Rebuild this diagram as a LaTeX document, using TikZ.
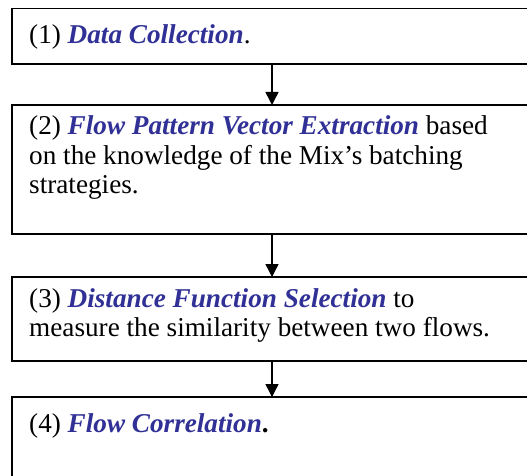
\documentclass[tikz,border=0pt]{standalone}
\usepackage{fontspec}
\setmainfont{Liberation Serif}
\usetikzlibrary{arrows.meta}
\definecolor{stepblue}{RGB}{48,48,150}
\newcommand{\term}[1]{\textcolor{stepblue}{\textbf{\textit{#1}}}}
\tikzset{
  stepbox/.style={draw=black, line width=1.8pt, rectangle, anchor=north west,
    minimum width=520pt, inner sep=0pt, outer sep=0pt},
  steptext/.style={anchor=base west, inner sep=0pt,
    font=\fontsize{27.2}{29}\selectfont},
  flowarrow/.style={line width=1.5pt, -{Triangle[width=13pt,length=13pt]}}
}
\begin{document}
\begin{tikzpicture}[x=1pt,y=1pt]
  \useasboundingbox (0,0) rectangle (527,-476);
  \clip (0,0) rectangle (527,-476);
  \fill[white] (0,0) rectangle (527,-476);
  % the four steps
  \node[stepbox, minimum height=55.5pt] (b1) at (12,-8.5) {};
  \node[stepbox, minimum height=129pt]  (b2) at (12,-105) {};
  \node[stepbox, minimum height=84pt]   (b3) at (12,-277) {};
  \node[stepbox, minimum height=110pt]  (b4) at (12,-397) {};
  % step texts, one node per line
  \node[steptext] (t1)  at (29,-44)  {(1) \term{Data Collection}.};
  \node[steptext] (t2a) at (29,-135) {(2) \term{Flow Pattern Vector Extraction} based};
  \node[steptext] (t2b) at (29,-164) {on the knowledge of the Mix’s batching};
  \node[steptext] (t2c) at (29,-193) {strategies.};
  \node[steptext] (t3a) at (29,-307) {(3) \term{Distance Function Selection} to};
  \node[steptext] (t3b) at (29,-336) {measure the similarity between two flows.};
  \node[steptext] (t4)  at (29,-432) {(4) \term{Flow Correlation}\textbf{.}};
  % connectors
  \draw[flowarrow] (b1.south) -- (b2.north);
  \draw[flowarrow] (b2.south) -- (b3.north);
  \draw[flowarrow] (b3.south) -- (b4.north);
\end{tikzpicture}
\end{document}
